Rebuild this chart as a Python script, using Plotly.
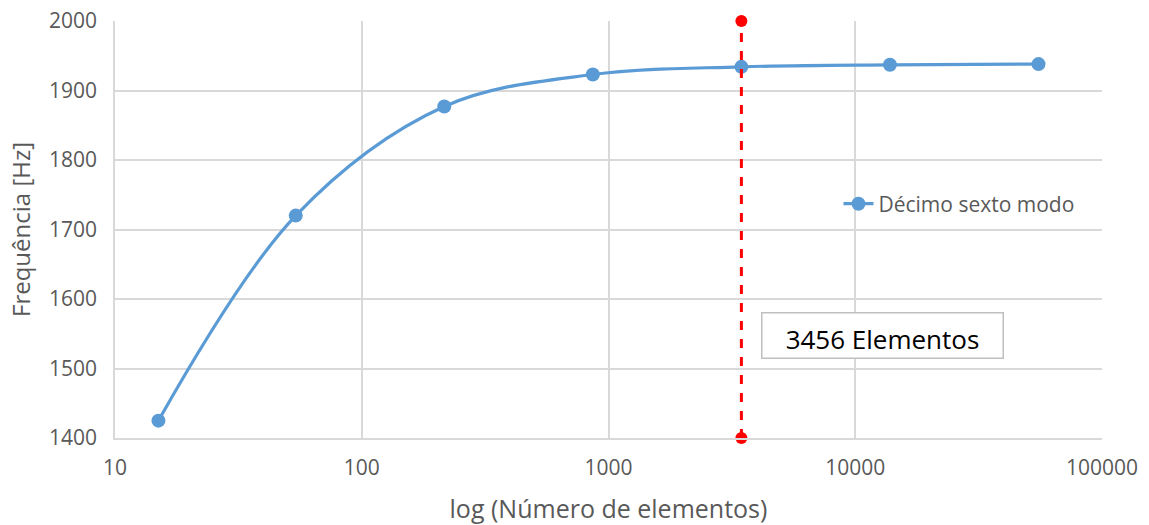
import plotly.graph_objects as go

elementos = [15, 54, 216, 864, 3456, 13824, 55296]
frequencia = [1425, 1720, 1877, 1923, 1934, 1937, 1938]
serie_nome = "Décimo sexto modo"
ref_x = [3456, 3456]
ref_y = [1400, 2000]
x_ticks = [10, 100, 1000, 10000, 100000]
y_ticks = [1400, 1500, 1600, 1700, 1800, 1900, 2000]

blue = "#5B9BD5"
grid = "#D9D9D9"
txt = "#595959"
font_family = "'Open Sans', sans-serif"

fig = go.Figure()
fig.add_trace(go.Scatter(
    x=elementos, y=frequencia, name=serie_nome, mode="lines+markers",
    line=dict(color=blue, width=3.2, shape="spline", smoothing=1.0),
    marker=dict(color=blue, size=14), cliponaxis=False))
fig.add_trace(go.Scatter(
    x=ref_x, y=ref_y, mode="lines+markers",
    line=dict(color="#FF0000", width=3, dash="dash"),
    marker=dict(color="#FF0000", size=12),
    showlegend=False, hoverinfo="skip", cliponaxis=False))

fig.add_annotation(
    x=0.778, y=0.246, xref="paper", yref="paper",
    xanchor="center", yanchor="middle",
    text="3456 Elementos", showarrow=False,
    font=dict(family=font_family, size=26, color="#000000"),
    bordercolor="#BFBFBF", borderwidth=1.5, bgcolor="white",
    width=238, height=42, align="center", valign="bottom", borderpad=1)

fig.update_layout(
    width=1149, height=525,
    margin=dict(l=115, r=47, t=21, b=87),
    paper_bgcolor="white", plot_bgcolor="white",
    font=dict(family=font_family, color=txt, size=20),
    legend=dict(x=0.733, y=0.561, xanchor="left", yanchor="middle",
                bgcolor="rgba(0,0,0,0)", font=dict(size=21, color=txt),
                itemwidth=30),
    xaxis=dict(type="log", range=[1, 5], tickvals=x_ticks,
               ticktext=[str(v) for v in x_ticks],
               showgrid=True, gridcolor=grid, gridwidth=1.5,
               showline=True, linecolor=grid, linewidth=1.5,
               ticks="", tickfont=dict(size=21, color=txt),
               ticklabelstandoff=10, automargin=False,
               title=dict(text="log (Número de elementos)", font=dict(size=25, color=txt), standoff=22),
               zeroline=False, mirror=False),
    yaxis=dict(range=[1400, 2000], tickvals=y_ticks,
               showgrid=True, gridcolor=grid, gridwidth=1.5,
               showline=True, linecolor=grid, linewidth=1.5,
               ticks="", tickfont=dict(size=21, color=txt),
               ticklabelstandoff=12, automargin=False,
               title=dict(text="Frequência [Hz]", font=dict(size=24, color=txt), standoff=12),
               zeroline=False),
)

fig.write_html("out.html")
